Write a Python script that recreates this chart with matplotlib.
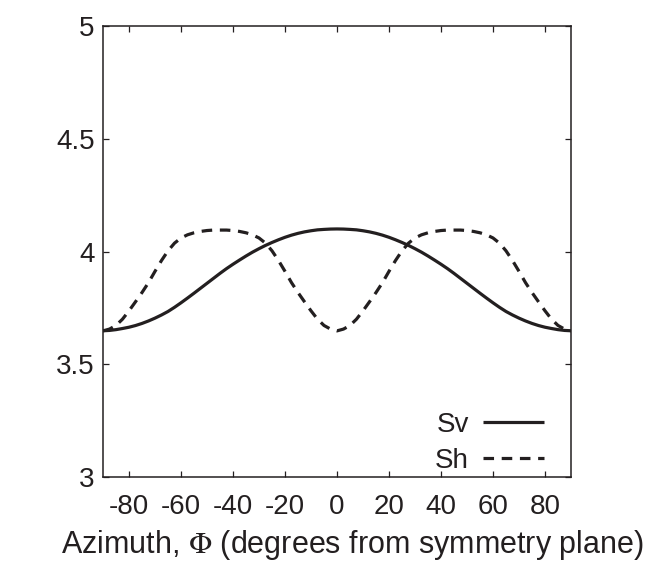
import matplotlib
matplotlib.use("Agg")
import matplotlib.pyplot as plt

plt.rcParams['font.family'] = ['Liberation Sans', 'DejaVu Sans']
plt.rcParams['mathtext.fontset'] = 'stix'

azimuth = [-90, -87.5, -85, -82.5, -80, -77.5, -75, -72.5, -70, -67.5, -65, -62.5, -60, -57.5, -55, -52.5,
           -50, -47.5, -45, -42.5, -40, -37.5, -35, -32.5, -30, -27.5, -25, -22.5, -20, -17.5, -15, -12.5,
           -10, -7.5, -5, -2.5, 0, 2.5, 5, 7.5, 10, 12.5, 15, 17.5, 20, 22.5, 25, 27.5, 30, 32.5, 35, 37.5,
           40, 42.5, 45, 47.5, 50, 52.5, 55, 57.5, 60, 62.5, 65, 67.5, 70, 72.5, 75, 77.5, 80, 82.5, 85,
           87.5, 90]
sv = [3.6485, 3.6500, 3.6535, 3.6585, 3.6642, 3.6717, 3.6810, 3.6920, 3.7045, 3.7185, 3.7340, 3.7525,
      3.7725, 3.7935, 3.8150, 3.8370, 3.8590, 3.8810, 3.9030, 3.9240, 3.9435, 3.9620, 3.9800, 3.9970,
      4.0125, 4.0270, 4.0400, 4.0520, 4.0630, 4.0725, 4.0805, 4.0870, 4.0920, 4.0960, 4.0980, 4.0995,
      4.1000,
      4.0995, 4.0980, 4.0960, 4.0920, 4.0870, 4.0805, 4.0725, 4.0630, 4.0520, 4.0400, 4.0270, 4.0125,
      3.9970, 3.9800, 3.9620, 3.9435, 3.9240, 3.9030, 3.8810, 3.8590, 3.8370, 3.8150, 3.7935, 3.7725,
      3.7525, 3.7340, 3.7185, 3.7045, 3.6920, 3.6810, 3.6717, 3.6642, 3.6585, 3.6535, 3.6500, 3.6485]
sh = [3.648, 3.656, 3.672, 3.700, 3.737, 3.777, 3.818, 3.862, 3.912, 3.960, 4.003, 4.037, 4.060, 4.074,
      4.083, 4.089, 4.093, 4.095, 4.095, 4.095, 4.093, 4.089, 4.083, 4.074, 4.060, 4.037, 4.003, 3.960,
      3.912, 3.862, 3.818, 3.777, 3.737, 3.700, 3.672, 3.656, 3.648,
      3.656, 3.672, 3.700, 3.737, 3.777, 3.818, 3.862, 3.912, 3.960, 4.003, 4.037, 4.060, 4.074,
      4.083, 4.089, 4.093, 4.095, 4.095, 4.095, 4.093, 4.089, 4.083, 4.074, 4.060, 4.037, 4.003, 3.960,
      3.912, 3.862, 3.818, 3.777, 3.737, 3.700, 3.672, 3.656, 3.648]
xticks = [-80, -60, -40, -20, 0, 20, 40, 60, 80]
yticks = [3, 3.5, 4, 4.5, 5]
ytick_labels = ['3', '3.5', '4', '4.5', '5']

ink = '#231f20'
fs = 20
fig = plt.figure(figsize=(6.48, 5.61), dpi=100)
ax = fig.add_axes([103/648, 1 - 477/561, (571 - 103)/648, (477 - 26)/561])

ax.plot(azimuth, sv, color=ink, lw=2.3, label='Sv', solid_capstyle='butt', solid_joinstyle='round')
ax.plot(azimuth, sh, color=ink, lw=2.3, dashes=(3.3, 2.4), label='Sh', dash_capstyle='butt')

ax.set_xlim(-90, 90)
ax.set_ylim(3, 5)
ax.set_xticks(xticks)
ax.set_xticklabels([str(t) for t in xticks])
ax.set_yticks(yticks)
ax.set_yticklabels(ytick_labels)
ax.tick_params(direction='in', top=True, right=True, length=4, width=0.9, color=ink,
               labelsize=fs, labelcolor=ink)
ax.tick_params(axis='x', pad=12.5)
ax.tick_params(axis='y', pad=6)
for s in ax.spines.values():
    s.set_linewidth(1.1)
    s.set_color(ink)

ax.set_xlabel(r'Azimuth, $\Phi$ (degrees from symmetry plane)', fontsize=22, color=ink)
ax.xaxis.set_label_coords(0.532, -0.113, transform=ax.transAxes)
ax.xaxis.label.set_va('top')

leg = ax.legend(loc='lower right', frameon=False, markerfirst=False, fontsize=fs,
                handlelength=2.2, handletextpad=0.5, labelspacing=0.36,
                borderaxespad=0.2, bbox_to_anchor=(0.978, -0.03))
for t in leg.get_texts():
    t.set_color(ink)

fig.savefig('out.png', dpi=100)
